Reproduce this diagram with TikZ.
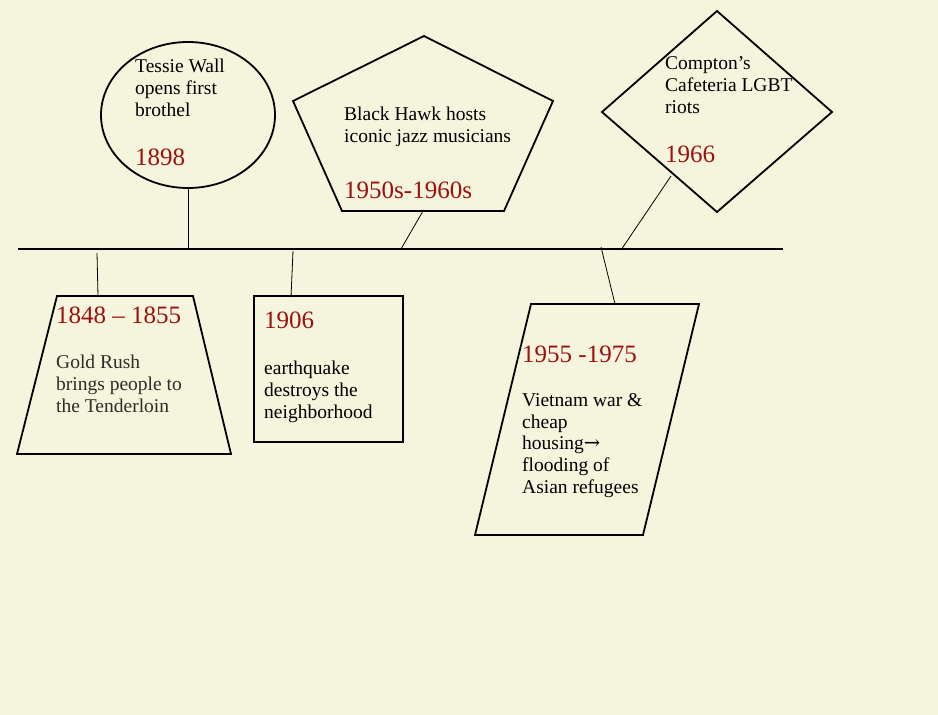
\documentclass[tikz,border=0pt]{standalone}
\usepackage{fontspec}
\setmainfont{Liberation Serif}
\newfontfamily\arrowfont{DejaVu Serif}
\definecolor{bg}{RGB}{245,244,220}
\definecolor{yr}{RGB}{158,16,16}
\definecolor{gtext}{RGB}{45,45,40}
\begin{document}
\begin{tikzpicture}[x=1pt,y=-1pt,
  shp/.style={draw=black,line width=1.8pt,line join=miter},
  conn/.style={draw=black,line width=0.8pt},
  axis/.style={draw=black,line width=2.2pt},
  body/.style={anchor=base west,inner sep=0pt,align=left,font=\fontsize{19.5}{21.6}\selectfont,text=black},
  year/.style={anchor=base west,inner sep=0pt,font=\fontsize{25}{28}\selectfont,text=yr}]
\fill[bg] (0,0) rectangle (938,715);
\useasboundingbox (0,0) rectangle (938,715);
% timeline
\coordinate (L0) at (18,249);
\coordinate (L1) at (783,249);
\draw[axis] (L0) -- (L1);
% ellipse
\draw[shp] (188,115) ellipse [x radius=87, y radius=73];
\coordinate (e1) at (188,188);
\coordinate (a1) at (188,248);
\draw[conn] (e1) -- (a1);
\node[body] (t1) at (135,116) {Tessie Wall\\opens first\\brothel};
\node[year] (y1) at (135,165) {1898};
% pentagon
\draw[shp] (424,36) -- (553,101) -- (504,211) -- (342,211) -- (293,101) -- cycle;
\coordinate (p1) at (423,211);
\coordinate (a2) at (401,249);
\draw[conn] (p1) -- (a2);
\node[body] (t2) at (344,142) {Black Hawk hosts\\iconic jazz musicians};
\node[year] (y2) at (344,198) {1950s-1960s};
% diamond
\draw[shp] (717,11) -- (832,112) -- (717,212) -- (602,112) -- cycle;
\coordinate (d1) at (671,176);
\coordinate (a3) at (621,250);
\draw[conn] (d1) -- (a3);
\node[body] (t3) at (665,113) {Compton’s\\Cafeteria LGBT\\riots};
\node[year] (y3) at (665,162) {1966};
% trapezoid
\draw[shp] (57,296) -- (193,296) -- (231,454) -- (17,454) -- cycle;
\coordinate (a4) at (97,253);
\coordinate (q1) at (98,296);
\draw[conn] (a4) -- (q1);
\node[year] (y4) at (56,323) {1848 – 1855};
\node[body,text=gtext] (t4) at (56,412) {Gold Rush\\brings people to\\the Tenderloin};
% rectangle
\draw[shp] (254,296) rectangle (403,442);
\coordinate (a5) at (293,251);
\coordinate (r1) at (291,297);
\draw[conn] (a5) -- (r1);
\node[year] (y5) at (264,328) {1906};
\node[body] (t5) at (264,418) {earthquake\\destroys the\\neighborhood};
% parallelogram
\draw[shp] (531,304) -- (699,304) -- (643,535) -- (475,535) -- cycle;
\coordinate (a6) at (601,247);
\coordinate (g1) at (615,304);
\draw[conn] (a6) -- (g1);
\node[year] (y6) at (522,362) {1955 -1975};
\node[body] (t6) at (522,493) {Vietnam war \&\\cheap\\housing{\arrowfont →}\\flooding of\\Asian refugees};
\end{tikzpicture}
\end{document}
